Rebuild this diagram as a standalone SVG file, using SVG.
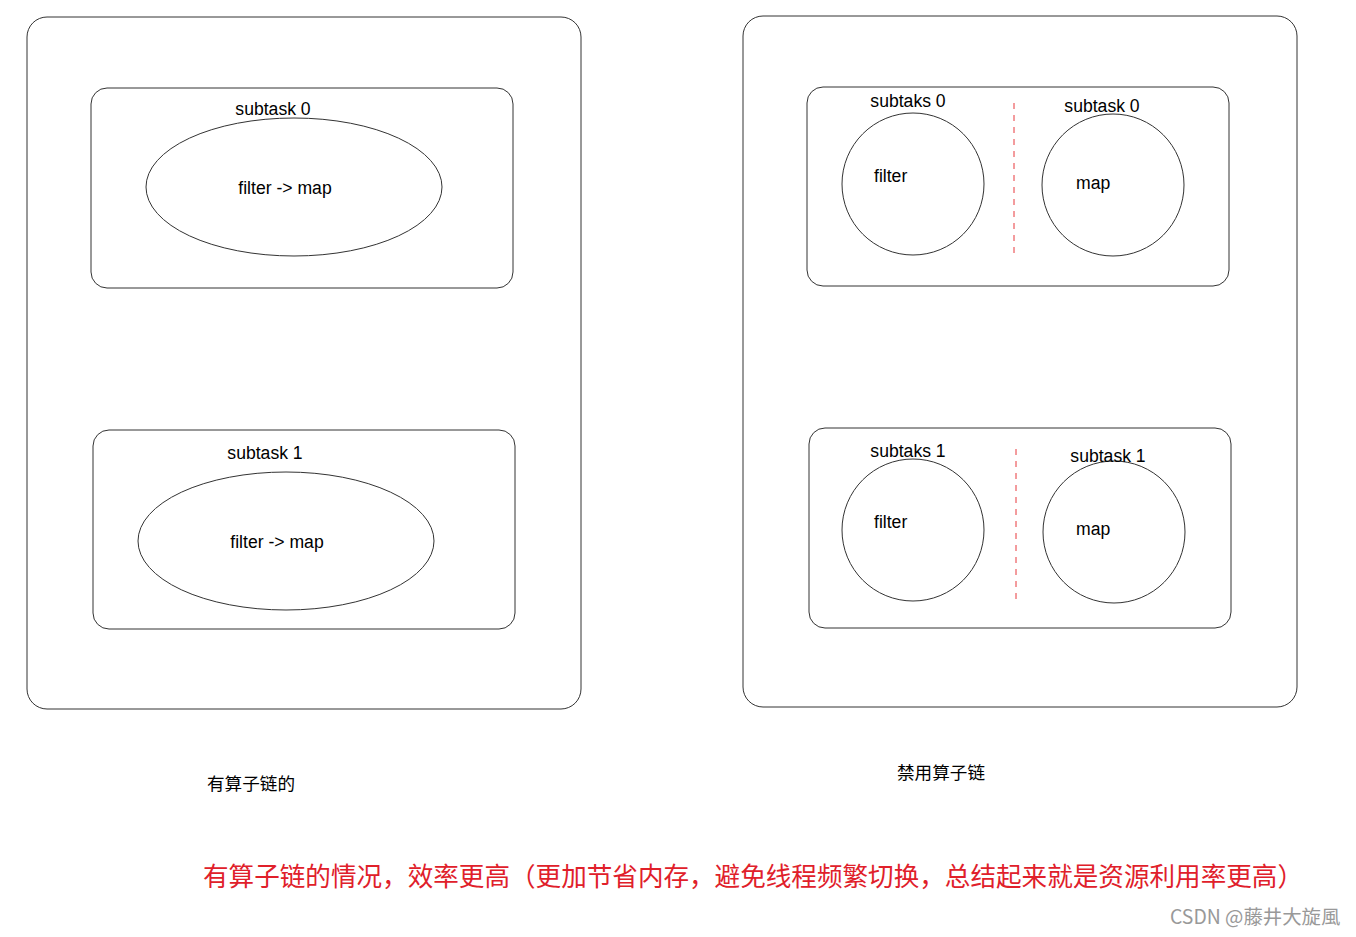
<svg xmlns="http://www.w3.org/2000/svg" width="1356" height="937" viewBox="0 0 1356 937">
<style>
.box{fill:#fff;stroke:#333;stroke-width:1}
.sh{fill:none;stroke:#333;stroke-width:1}
.t{font-family:"Liberation Sans",Arial,sans-serif;font-size:17.6px;fill:#000}
.c{font-family:"Noto Sans CJK SC","Liberation Sans",sans-serif;font-size:17.6px;fill:#000}
.dash{stroke:#e8383d;stroke-width:1;stroke-dasharray:6,6}
</style>
<rect width="1356" height="937" fill="#fff"/>
<g id="left-outer"><rect class="box" x="27" y="17" width="554" height="692" rx="20"/></g>
<g id="left-subtask0">
<rect class="sh" x="91" y="88" width="422" height="200" rx="16"/>
<ellipse class="sh" cx="294" cy="187" rx="148" ry="69"/>
<text class="t" x="273" y="115" text-anchor="middle">subtask 0</text>
<text class="t" x="285" y="194" text-anchor="middle">filter -&gt; map</text>
</g>
<g id="left-subtask1">
<rect class="sh" x="93" y="430" width="422" height="199" rx="16"/>
<ellipse class="sh" cx="286" cy="541" rx="148" ry="69"/>
<text class="t" x="265" y="459" text-anchor="middle">subtask 1</text>
<text class="t" x="277" y="548" text-anchor="middle">filter -&gt; map</text>
</g>
<g id="right-outer"><rect class="box" x="743" y="16" width="554" height="691" rx="20"/></g>
<g id="right-subtask0">
<rect class="sh" x="807" y="87" width="422" height="199" rx="16"/>
<circle class="sh" cx="913" cy="184" r="71"/>
<circle class="sh" cx="1113" cy="185" r="71"/>
<text class="t" x="908" y="107" text-anchor="middle">subtaks 0</text>
<text class="t" x="1102" y="112" text-anchor="middle">subtask 0</text>
<text class="t" x="874" y="182">filter</text>
<text class="t" x="1076" y="189">map</text>
</g>
<g id="right-subtask1">
<rect class="sh" x="809" y="428" width="422" height="200" rx="16"/>
<circle class="sh" cx="913" cy="530" r="71"/>
<circle class="sh" cx="1114" cy="532" r="71"/>
<text class="t" x="908" y="457" text-anchor="middle">subtaks 1</text>
<text class="t" x="1108" y="462" text-anchor="middle">subtask 1</text>
<text class="t" x="874" y="528">filter</text>
<text class="t" x="1076" y="535">map</text>
</g>
<g id="connectors">
<line class="dash" x1="1014" y1="103" x2="1014" y2="258"/>
<line class="dash" x1="1016" y1="449" x2="1016" y2="604"/>
</g>
<g id="labels">
<text class="c" x="207" y="790">有算子链的</text>
<text class="c" x="897" y="779">禁用算子链</text>
<text x="203" y="886" font-family="Noto Sans CJK SC,sans-serif" font-size="26" fill="#e0202a" textLength="1100" lengthAdjust="spacingAndGlyphs">有算子链的情况，效率更高（更加节省内存，避免线程频繁切换，总结起来就是资源利用率更高）</text>
<text x="1170" y="924" font-family="Noto Sans CJK SC,sans-serif" font-size="19.4" fill="#999">CSDN @藤井大旋風</text>
</g>
</svg>
